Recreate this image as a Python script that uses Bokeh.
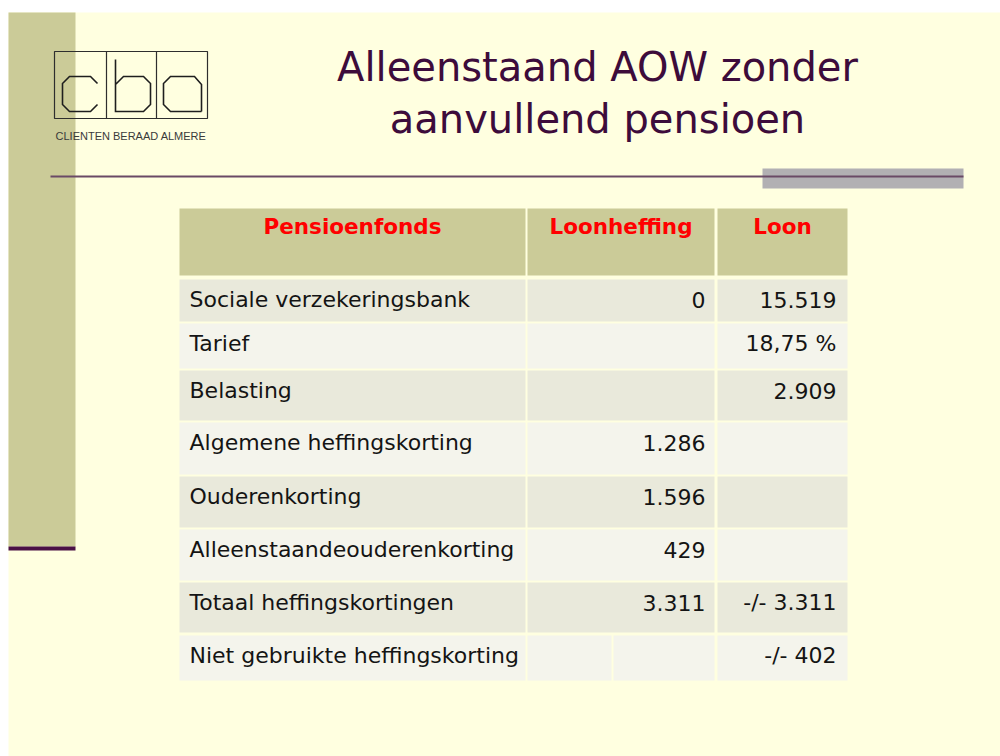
from bokeh.plotting import figure
from bokeh.models import Range1d
from bokeh.core.properties import value
from bokeh.embed import file_html
from bokeh.resources import INLINE

# ---- data ----
title_lines = ["Alleenstaand AOW zonder", "aanvullend pensioen"]
headers = ["Pensioenfonds", "Loonheffing", "Loon"]
labels = ["Sociale verzekeringsbank", "Tarief", "Belasting",
          "Algemene heffingskorting", "Ouderenkorting",
          "Alleenstaandeouderenkorting", "Totaal heffingskortingen",
          "Niet gebruikte heffingskorting"]
loonheffing = ["0", "", "", "1.286", "1.596", "429", "3.311", ""]
loon = ["15.519", "18,75 %", "2.909", "", "", "", "-/- 3.311", "-/- 402"]
logo_caption = "CLIENTEN BERAAD ALMERE"

# ---- layout (picture pixel coordinates) ----
W, H = 1000, 756
FONT = "DejaVu Sans"
SLIDE_BG = "#FFFFE0"
OLIVE = "#CBCB98"
ROW_DARK = "#E9E9DB"
ROW_LIGHT = "#F4F4EC"

col_edges = [(179, 525), (527, 714), (717, 847)]
header_box = (208, 275)
row_tops = [279, 323, 370, 422, 476, 529, 582, 635]
row_bots = [321, 368, 420, 474, 527, 580, 632, 680]

p = figure(width=W, height=H, x_range=Range1d(0, W), y_range=Range1d(H, 0),
           output_backend="svg", toolbar_location=None, min_border=0)
p.axis.visible = False
p.grid.visible = False
p.outline_line_color = None
p.background_fill_color = "white"
p.border_fill_color = "white"

# slide background
p.quad(left=[8], right=[1004], top=[12], bottom=[760], fill_color=SLIDE_BG, line_color=None)
# left olive bar with purple foot
p.quad(left=[8], right=[75], top=[12], bottom=[546], fill_color=OLIVE, line_color=None)
p.quad(left=[8], right=[75], top=[546], bottom=[550], fill_color="#4A1045", line_color=None)

# horizontal rule and grey block
p.quad(left=[762], right=[963], top=[168], bottom=[188], fill_color="#B2B0B3", line_color=None)
p.line(x=[50, 963], y=[176, 176], line_color="#6A4A66", line_width=2)

# logo
box_col = "#2E2E2E"
p.quad(left=[54], right=[207], top=[51], bottom=[118], fill_color=None, line_color=box_col, line_width=1.2)
p.multi_line(xs=[[106, 106], [156, 156]], ys=[[51, 118], [51, 118]], line_color=box_col, line_width=1.2)
c_x = [97, 90, 69, 62, 62, 69, 90, 97]
c_y = [83, 76, 76, 83, 104, 111, 111, 104]
b_x = [115, 115, 143, 150, 150, 143, 123, 115]
b_y = [59, 111, 111, 104, 83, 76, 76, 84]
a_x = [201, 201, 194, 170, 163, 163, 170, 201]
a_y = [111, 84, 76, 76, 83, 104, 111, 111]
p.multi_line(xs=[c_x, b_x, a_x], ys=[c_y, b_y, a_y], line_color="#1E1E1E", line_width=1.6,
             line_join="miter")
p.text(x=[130.5], y=[135.5], text=[logo_caption], text_font=value("Liberation Sans"),
       text_font_size="11px", text_align="center", text_baseline="alphabetic", text_color="#3A3A3A")

# title
p.text(x=[597, 597], y=[66, 118], text=title_lines, text_font=value(FONT),
       text_font_size="40px", text_align="center", text_baseline="alphabetic", text_color="#3D0C3B")

# header cells
for (l, r) in col_edges:
    p.quad(left=[l], right=[r], top=[header_box[0]], bottom=[header_box[1]], fill_color=OLIVE, line_color=None)
p.text(x=[(l + r) / 2 for l, r in col_edges], y=[header_box[0] + 18] * 3, text=headers,
       text_font=value(FONT), text_font_size="21.5px", text_font_style="bold",
       text_align="center", text_baseline="alphabetic", text_color="#FF0000")

# body cells
L, R, T, B, C = [], [], [], [], []
for i, (t, b) in enumerate(zip(row_tops, row_bots)):
    col = ROW_DARK if i % 2 == 0 else ROW_LIGHT
    for j, (l, r) in enumerate(col_edges):
        if j == 1 and i == len(row_tops) - 1:
            for (ll, rr) in [(l, 611), (613, r)]:
                L.append(ll); R.append(rr); T.append(t); B.append(b); C.append(col)
        else:
            L.append(l); R.append(r); T.append(t); B.append(b); C.append(col)
p.quad(left=L, right=R, top=T, bottom=B, fill_color=C, line_color=None)

base_y = [t + 20 for t in row_tops]
p.text(x=[189] * len(labels), y=base_y, text=labels, text_font=value(FONT), text_font_size="22px",
       text_align="left", text_baseline="alphabetic", text_color="#141414")
p.text(x=[705] * len(loonheffing), y=base_y, text=loonheffing, text_font=value(FONT), text_font_size="22px",
       text_align="right", text_baseline="alphabetic", text_color="#141414")
p.text(x=[836] * len(loon), y=base_y, text=loon, text_font=value(FONT), text_font_size="22px",
       text_align="right", text_baseline="alphabetic", text_color="#141414")

open("out.html", "w").write(file_html(p, INLINE))
